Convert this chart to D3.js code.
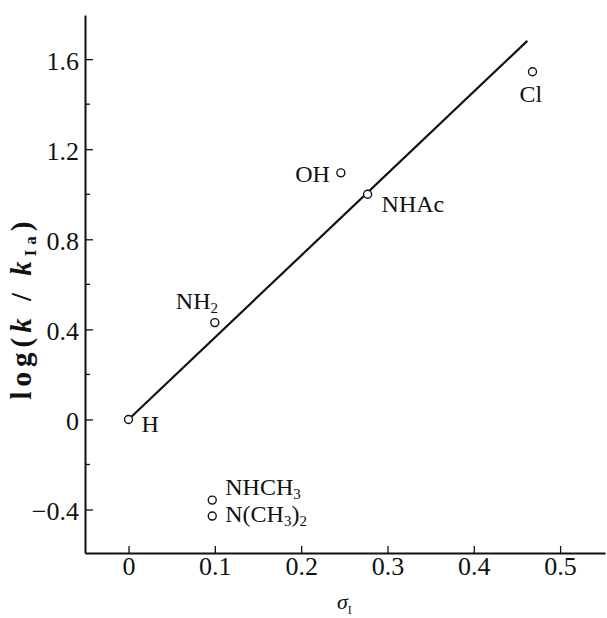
<!DOCTYPE html>
<html lang="en">
	<head>
		<meta charset="utf-8">
		<title>log(k/kIa) vs sigma I</title>
		<script src="https://d3js.org/d3.v7.min.js"></script>
		<style type="text/css">
			body { margin: 0; background: #fff; }
			svg text { font-family: "Liberation Serif", "Times New Roman", serif; fill: #111; }
		</style>
	</head>
	<body>
		<script type="text/javascript">

			// data
			var substituents = ["H", "NH2", "OH", "NHAc", "Cl", "NHCH3", "N(CH3)2"];
			var sigmaI = [0, 0.1, 0.246, 0.277, 0.468, 0.097, 0.097];
			var logRatio = [0, 0.43, 1.095, 1.0, 1.544, -0.358, -0.429];

			// fitted line end points
			var fitX = [0, 0.462];
			var fitY = [0, 1.681];

			// tick values
			var xTicks = [0, 0.1, 0.2, 0.3, 0.4, 0.5];
			var yTicks = [-0.4, 0, 0.4, 0.8, 1.2, 1.6];
			var yMinor = [-0.2, 0.2, 0.6, 1.0, 1.4];

			// label pieces: [text, isSubscript]
			var labelParts = [
				[["H", 0]],
				[["NH", 0], ["2", 1]],
				[["OH", 0]],
				[["NHAc", 0]],
				[["Cl", 0]],
				[["NHCH", 0], ["3", 1]],
				[["N(CH", 0], ["3", 1], [")", 0], ["2", 1]]
			];
			// label placement relative to the point (pixels)
			var labelDx = [13, -39, -11, 14, -13, 13, 13];
			var labelDy = [13, -14, 9, 18, 30, -5, 6];
			var labelAnchor = ["start", "start", "end", "start", "start", "start", "start"];

			var w = 607;
			var h = 618;
			var serif = '"Liberation Serif", "Times New Roman", serif';

			var svg = d3.select("body")
						.append("svg")
						.attr("width", w)
						.attr("height", h);

			var x = d3.scaleLinear()
					  .domain([-0.0504, 0.552])
					  .range([85, 605]);

			var y = d3.scaleLinear()
					  .domain([-0.593, 1.796])
					  .range([553, 15]);

			// x axis
			var xAxis = svg.append("g")
				.attr("transform", "translate(0," + y(-0.593) + ")")
				.call(d3.axisBottom(x).tickValues(xTicks).tickSize(-7).tickSizeOuter(0)
					.tickFormat(function(d) { return d === 0 ? "0" : d3.format(".1f")(d); }));
			xAxis.attr("font-family", serif).attr("font-size", 26);
			xAxis.select(".domain").attr("stroke", "#111").attr("stroke-width", 2);
			xAxis.selectAll(".tick line").attr("stroke", "#111").attr("stroke-width", 1.3);
			xAxis.selectAll(".tick text")
				.attr("y", 22)
				.attr("dy", 0)
				.attr("fill", "#111");

			// y axis
			var yAxis = svg.append("g")
				.attr("transform", "translate(" + x(-0.0504) + ",0)")
				.call(d3.axisLeft(y).tickValues(yTicks).tickSize(-8).tickSizeOuter(0)
					.tickFormat(function(d) {
						if (d === 0) return "0";
						return (d < 0 ? "\u2212" : "") + d3.format(".1f")(Math.abs(d));
					}));
			yAxis.attr("font-family", serif).attr("font-size", 26);
			yAxis.select(".domain").attr("stroke", "#111").attr("stroke-width", 2);
			yAxis.selectAll(".tick line").attr("stroke", "#111").attr("stroke-width", 1.3);
			yAxis.selectAll(".tick text")
				.attr("x", -6)
				.attr("dy", "0.38em")
				.attr("fill", "#111");

			// minor y ticks
			svg.selectAll(".minor")
			   .data(yMinor)
			   .enter()
			   .append("line")
			   .attr("class", "minor")
			   .attr("x1", x(-0.0504))
			   .attr("x2", x(-0.0504) + 5)
			   .attr("y1", function(d) { return y(d); })
			   .attr("y2", function(d) { return y(d); })
			   .attr("stroke", "#111")
			   .attr("stroke-width", 1.3);

			// fitted line
			var r = 4;
			var ang = Math.atan2(y(fitY[1]) - y(fitY[0]), x(fitX[1]) - x(fitX[0]));
			svg.append("line")
			   .attr("x1", x(fitX[0]) + r * Math.cos(ang))
			   .attr("y1", y(fitY[0]) + r * Math.sin(ang))
			   .attr("x2", x(fitX[1]))
			   .attr("y2", y(fitY[1]))
			   .attr("stroke", "#111")
			   .attr("stroke-width", 2.2);

			// points
			svg.selectAll("circle")
			   .data(sigmaI)
			   .enter()
			   .append("circle")
			   .attr("cx", function(d) { return x(d); })
			   .attr("cy", function(d, i) { return y(logRatio[i]); })
			   .attr("r", r)
			   .attr("fill", "#fff")
			   .attr("stroke", "#111")
			   .attr("stroke-width", 1.4);

			// point labels
			var subShift = 4;
			substituents.forEach(function(name, i) {
				var t = svg.append("text")
					.attr("x", x(sigmaI[i]) + labelDx[i])
					.attr("y", y(logRatio[i]) + labelDy[i])
					.attr("text-anchor", labelAnchor[i])
					.style("font-size", "24px");
				var shifted = 0;
				labelParts[i].forEach(function(p) {
					var want = p[1] ? subShift : 0;
					t.append("tspan")
					 .text(p[0])
					 .attr("dy", want - shifted)
					 .style("font-size", p[1] ? "15px" : "24px");
					shifted = want;
				});
			});

			// x axis title
			var xt = svg.append("text")
				.attr("x", 337)
				.attr("y", 609)
				.style("font-size", "22px");
			xt.append("tspan").text("\u03c3").style("font-style", "italic");
			xt.append("tspan").text("I").attr("dy", 5).style("font-size", "12px");

			// y axis title
			var yt = svg.append("text")
				.attr("transform", "translate(31,308) rotate(-90)")
				.attr("text-anchor", "middle")
				.style("font-size", "29px")
				.style("font-weight", "bold")
				.style("letter-spacing", "5px");
			yt.append("tspan").text("log(");
			yt.append("tspan").text("k").style("font-style", "italic");
			yt.append("tspan").text(" / ");
			yt.append("tspan").text("k").style("font-style", "italic");
			yt.append("tspan").text("Ia").attr("dy", 5).style("font-size", "17px");
			yt.append("tspan").text(")").attr("dy", -5);

		</script>
	</body>
</html>
